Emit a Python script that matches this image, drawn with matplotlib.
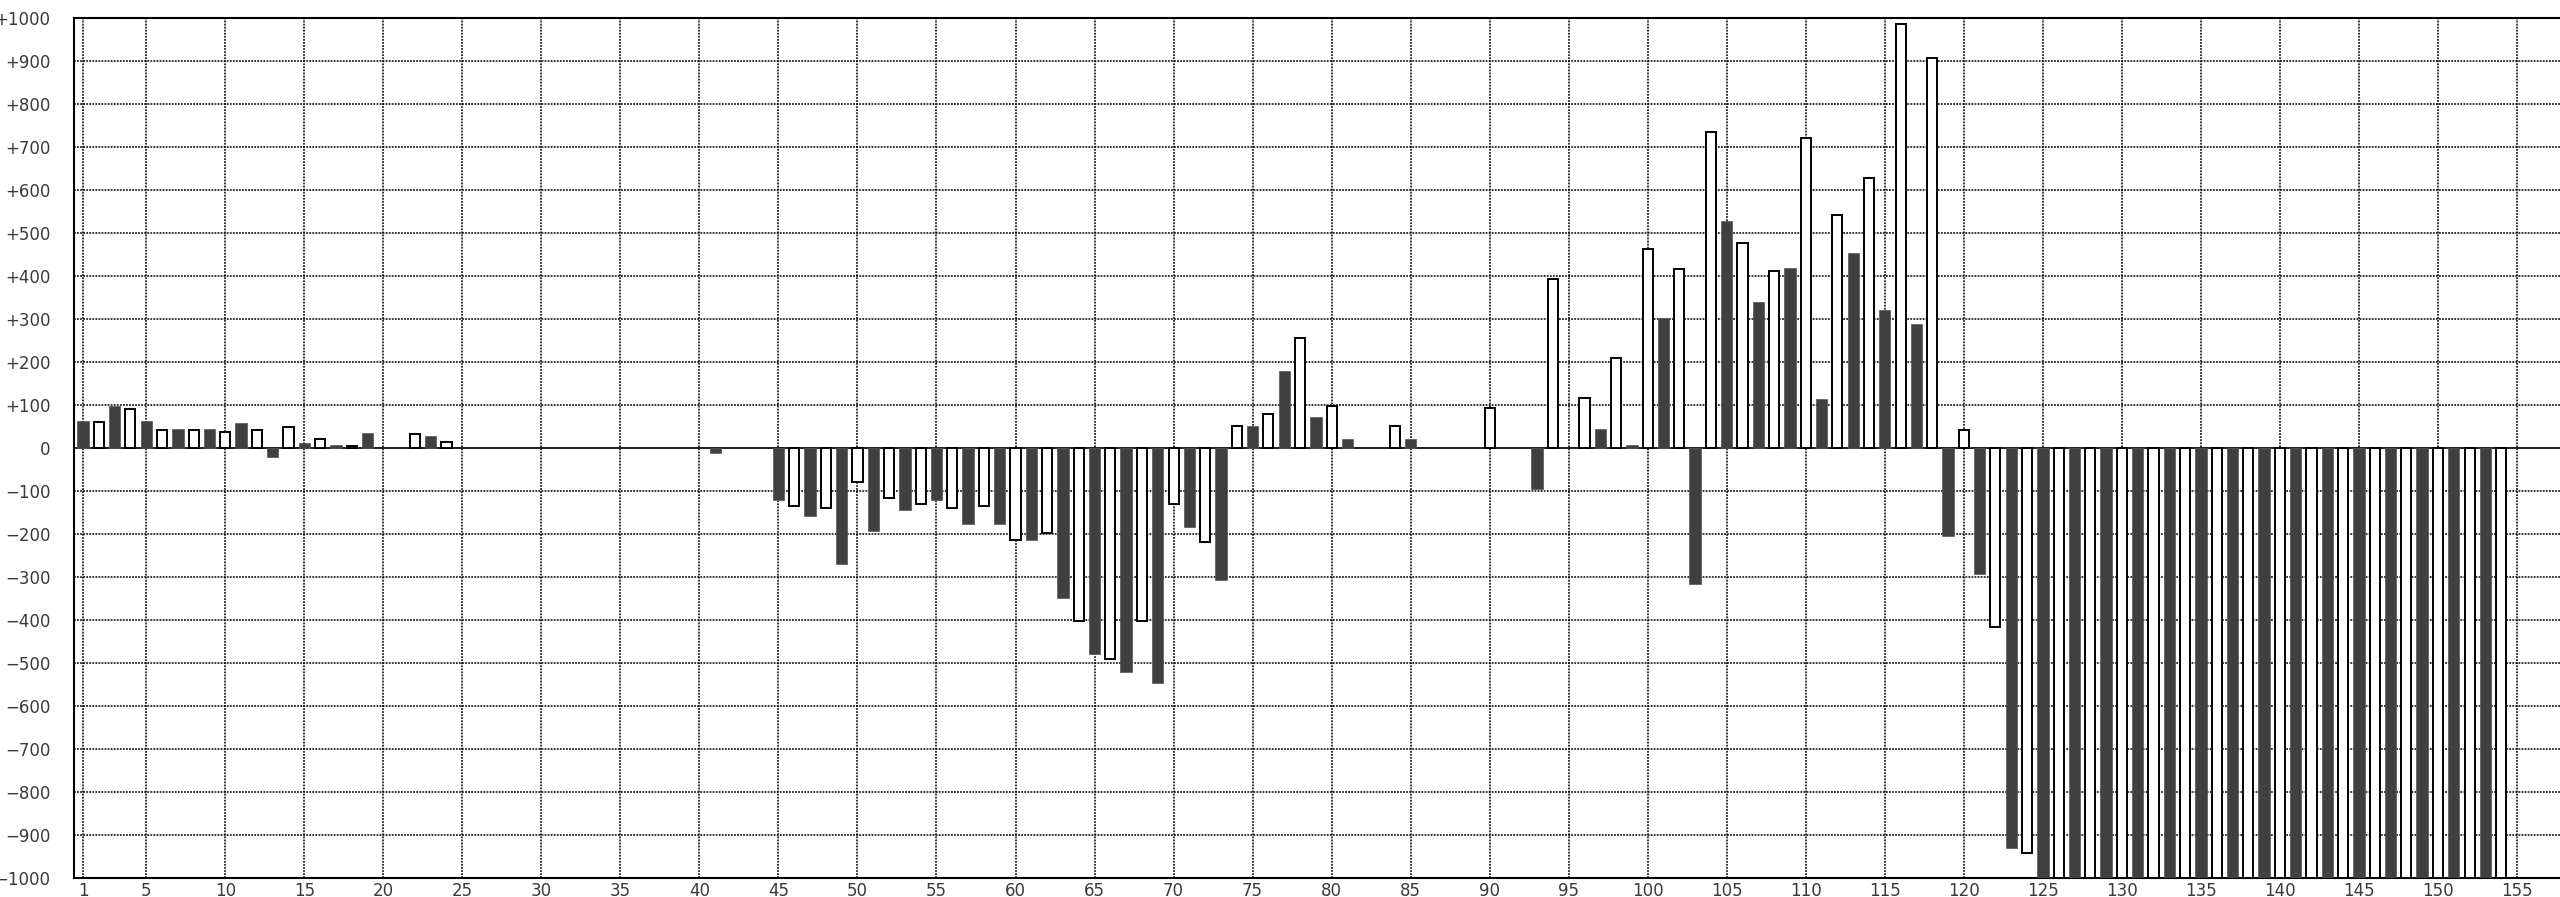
import numpy as np
import matplotlib
matplotlib.use("Agg")
import matplotlib.pyplot as plt

# odd positions -> dark bars, even positions -> white bars
dark_x = list(range(1, 154, 2))
dark_vals = [
    63, 97, 63, 44, 44, 58, -21, 11, 6, 34, 0, 29,
    0, 0, 0, 0, 0, 0, 0, 0, -12, 0,
    -122, -159, -270, -192, -145, -122, -177, -177, -215, -348, -478, -520, -547, -183, -307,
    52, 179, 72, 21, 0, 21, 0, 0, 0, -96, 0, 44, 7, 302, -316, 529, 339, 418, 114, 454, 320, 289,
    -205, -293, -930,
    -1000, -1000, -1000, -1000, -1000, -1000, -1000, -1000, -1000, -1000, -1000, -1000, -1000, -1000, -1000,
]
white_x = list(range(2, 155, 2))
white_vals = [
    61, 91, 42, 42, 38, 42, 48, 20, 5, 0, 33, 14,
    0, 0, 0, 0, 0, 0, 0, 0, 0, 0,
    -134, -139, -80, -116, -130, -139, -134, -214, -197, -403, -490, -403, -130, -218,
    52, 79, 255, 97, 0, 51, 0, 0, 94, 0, 394, 116, 209, 463, 417, 736, 476, 412, 722, 542, 629, 985, 906,
    42, -417, -942,
    -1000, -1000, -1000, -1000, -1000, -1000, -1000, -1000, -1000, -1000, -1000, -1000, -1000, -1000, -1000,
]

x_ticks = [1] + list(range(5, 156, 5))
y_ticks = list(range(-1000, 1001, 100))


def fmt_y(v):
    if v > 0:
        return f"+{v}"
    if v < 0:
        return f"\u2212{-v}"
    return "0"


fig = plt.figure(figsize=(25.6, 8.97), dpi=100)
ax = fig.add_axes([74 / 2560, 1 - 878 / 897, 1 - 74 / 2560, 860 / 897])

dx, dv = np.array(dark_x), np.array(dark_vals)
wx, wv = np.array(white_x), np.array(white_vals)
dm, wm = dv != 0, wv != 0

ax.bar(dx[dm], dv[dm], width=0.72, color="#404040", edgecolor="#555555",
       linewidth=0.5, zorder=3)
ax.bar(wx[wm], wv[wm], width=0.64, color="white", edgecolor="black",
       linewidth=1.4, zorder=3)
ax.axhline(0, color="#222222", linewidth=1.4, zorder=2)

ax.set_xlim(0.43, 157.72)
ax.set_ylim(-1000, 1000)
ax.set_xticks(x_ticks)
ax.set_yticks(y_ticks)
ax.set_yticklabels([fmt_y(v) for v in y_ticks])
ax.grid(True, color="black", linestyle=(0, (1.2, 0.8)), linewidth=1.1, zorder=1)
ax.set_axisbelow(True)

ax.tick_params(axis="both", length=0, labelsize=12, labelcolor="#3a3a3a")
ax.tick_params(axis="y", pad=17)
ax.tick_params(axis="x", pad=3)

for side in ("left", "top", "bottom"):
    ax.spines[side].set_linewidth(1.5)
    ax.spines[side].set_color("black")
ax.spines["right"].set_visible(False)

fig.savefig("out.png", dpi=100, facecolor="white")
